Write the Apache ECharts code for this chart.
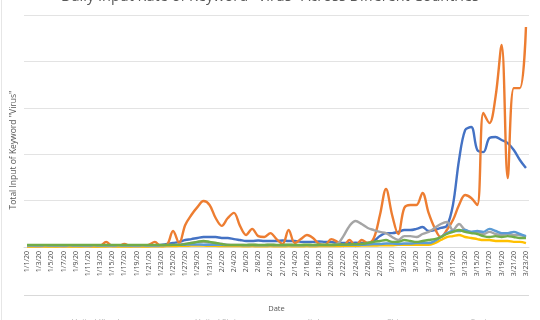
<!DOCTYPE html>
<html>
<head>
<meta charset="utf-8">
<script src="https://cdn.jsdelivr.net/npm/echarts@6/dist/echarts.min.js"></script>
<style>
  html, body { margin: 0; padding: 0; background: #fff; }
  #main { width: 540px; height: 320px; }
</style>
</head>
<body>
<div id="main"></div>
<script>
// dates 1/1/20 .. 3/23/20, one per day
var janDays = ['1/1/20','1/2/20','1/3/20','1/4/20','1/5/20','1/6/20','1/7/20','1/8/20','1/9/20','1/10/20',
  '1/11/20','1/12/20','1/13/20','1/14/20','1/15/20','1/16/20','1/17/20','1/18/20','1/19/20','1/20/20',
  '1/21/20','1/22/20','1/23/20','1/24/20','1/25/20','1/26/20','1/27/20','1/28/20','1/29/20','1/30/20','1/31/20'];
var febDays = ['2/1/20','2/2/20','2/3/20','2/4/20','2/5/20','2/6/20','2/7/20','2/8/20','2/9/20','2/10/20',
  '2/11/20','2/12/20','2/13/20','2/14/20','2/15/20','2/16/20','2/17/20','2/18/20','2/19/20','2/20/20',
  '2/21/20','2/22/20','2/23/20','2/24/20','2/25/20','2/26/20','2/27/20','2/28/20','2/29/20'];
var marDays = ['3/1/20','3/2/20','3/3/20','3/4/20','3/5/20','3/6/20','3/7/20','3/8/20','3/9/20','3/10/20',
  '3/11/20','3/12/20','3/13/20','3/14/20','3/15/20','3/16/20','3/17/20','3/18/20','3/19/20','3/20/20',
  '3/21/20','3/22/20','3/23/20'];
var dates = janDays.concat(febDays, marDays);

var seriesNames = ['United Kingdom', 'United States', 'Italy', 'China', 'Spain', 'Germany'];
var colors = ['#4472C4', '#ED7D31', '#A5A5A5', '#FFC000', '#5B9BD5', '#70AD47'];

var ukData = [
  0.6,0.6,0.7,0.6,0.6,0.7,0.6,0.6,0.7,0.6, 0.6,0.7,0.6,0.6,0.7,0.6,0.6,0.7,0.6,0.6,
  0.7,0.8,0.9,1.3,1.7,2.2,3.0,3.4,3.9,4.3, 4.3,4.3,3.9,3.9,3.4,3.0,2.6,2.6,2.8,2.6,
  2.6,2.6,2.8,2.6,2.6,2.2,2.2,2.2,2.4,2.2, 2.2,1.7,1.7,1.7,1.9,1.7,1.7,2.6,4.7,6.0,
  6.0,6.5,7.3,7.3,7.8,8.6,6.9,7.3,8.2,9.1, 18.1,37.5,50.4,51.7,41.8,40.9,47.0,47.4,46.1,44.8,
  41.8,37.5,34.0
];
var usData = [
  0.4,0.4,0.3,0.4,0.5,0.4,0.3,0.4,0.5,0.4, 0.4,0.3,0.4,2.2,0.4,0.4,1.3,0.4,0.4,0.4,
  0.9,2.2,0.4,0.9,6.9,1.7,9.5,13.8,17.2,19.8, 18.1,12.5,9.1,12.5,14.7,9.1,5.2,7.8,4.7,4.3,
  6.0,3.4,1.3,7.3,1.7,3.4,5.2,3.9,1.3,0.9, 3.4,2.2,0.4,3.0,0.4,3.0,1.7,3.9,13.8,25.0,
  13.8,5.6,16.8,18.1,18.1,23.3,14.7,8.2,4.3,7.3, 11.6,18.1,22.4,21.1,18.1,57.8,53.4,64.7,87.1,29.7,
  68.5,68.5,94.8
];
var italyData = [
  0.4,0.4,0.4,0.5,0.4,0.4,0.4,0.5,0.4,0.4, 0.4,0.5,0.4,0.4,0.4,0.5,0.4,0.4,0.4,0.5,
  0.4,0.4,0.5,0.6,0.8,1.0,1.3,1.7,2.2,2.2, 1.9,1.7,1.3,1.0,0.9,0.9,0.8,0.9,0.8,0.8,
  0.9,0.8,0.8,0.9,0.8,0.8,0.9,0.8,0.9,0.9, 0.9,1.3,4.7,9.1,11.2,9.9,8.2,7.3,6.5,6.0,
  4.3,3.0,4.7,4.7,4.3,5.6,6.5,8.2,9.9,10.8, 7.3,9.9,7.3,6.5,6.5,5.6,6.5,5.6,5.2,5.6,
  5.2,5.2,4.3
];
var chinaData = [
  0.2,0.2,0.3,0.2,0.2,0.2,0.3,0.2,0.2,0.2, 0.3,0.2,0.2,0.2,0.3,0.2,0.2,0.2,0.3,0.2,
  0.2,0.3,0.3,0.4,0.4,0.5,0.5,0.6,0.6,0.6, 0.5,0.5,0.4,0.4,0.4,0.4,0.3,0.4,0.3,0.3,
  0.4,0.3,0.3,0.4,0.3,0.3,0.4,0.3,0.4,0.4, 0.4,0.4,0.5,0.5,0.5,0.6,0.6,0.6,0.7,0.7,
  0.7,0.9,0.9,0.9,0.9,0.9,0.9,1.7,3.0,4.3, 4.7,5.2,4.3,3.9,3.4,3.0,3.0,2.6,2.6,2.6,
  2.2,2.2,1.7
];
var spainData = [
  0.6,0.6,0.6,0.7,0.6,0.6,0.6,0.7,0.6,0.6, 0.6,0.7,0.6,0.6,0.6,0.7,0.6,0.6,0.6,0.7,
  0.6,0.6,0.7,0.8,0.9,0.9,1.0,1.1,1.1,1.0, 1.0,0.9,0.9,0.8,0.8,0.8,0.7,0.8,0.7,0.7,
  0.8,0.7,0.7,0.8,0.7,0.7,0.8,0.7,0.8,0.8, 0.8,0.9,0.9,0.9,1.0,1.0,1.1,1.3,1.3,1.5,
  1.5,1.3,1.5,1.5,1.7,1.7,1.7,2.6,4.3,6.0, 6.9,6.9,7.3,6.5,6.9,6.5,7.8,6.9,6.0,6.0,
  6.5,5.6,4.7
];
var germanyData = [
  0.9,0.9,0.9,0.9,0.9,0.9,0.9,0.9,0.9,0.9, 0.9,0.9,0.9,0.9,0.9,0.9,0.9,0.9,0.9,0.9,
  0.9,0.9,0.9,0.9,0.9,0.9,1.3,1.7,2.2,2.6, 2.2,1.7,1.3,0.9,0.9,0.9,0.9,1.0,0.9,0.9,
  1.0,0.9,0.9,1.0,0.9,0.9,1.0,0.9,1.0,1.0, 1.0,1.0,1.1,1.1,1.2,1.3,1.7,2.2,2.6,3.0,
  2.2,2.2,3.0,2.6,2.2,2.6,3.0,3.4,4.3,5.6, 6.5,7.3,6.5,6.0,5.6,4.7,4.3,4.7,4.3,4.7,
  4.3,3.9,3.9
];
var allData = [ukData, usData, italyData, chinaData, spainData, germanyData];

var series = seriesNames.map(function (name, i) {
  return {
    name: name,
    type: 'line',
    data: allData[i],
    smooth: 0.35,
    symbol: 'none',
    lineStyle: { width: 2.4, color: colors[i] },
    itemStyle: { color: colors[i] }
  };
});

var myChart = echarts.init(document.getElementById('main'));

var option = {
  animation: false,
  backgroundColor: '#fff',
  title: {
    text: 'Daily Input Rate of Keyword "Virus" Across Different Countries',
    left: 'center',
    top: -16,
    textStyle: { fontFamily: 'Open Sans', fontSize: 14.5, fontWeight: 'normal', color: '#595959' }
  },
  legend: {
    data: seriesNames,
    top: 318,
    left: 'center',
    padding: 0,
    itemGap: 40,
    itemWidth: 18,
    itemHeight: 2,
    icon: 'rect',
    textStyle: { fontFamily: 'Open Sans', fontSize: 8, color: '#b0b0b0' }
  },
  grid: { left: 24, right: 11, top: 15, bottom: 73 },
  xAxis: {
    type: 'category',
    data: dates,
    name: 'Date',
    nameLocation: 'middle',
    nameGap: 58,
    nameTextStyle: { fontFamily: 'Open Sans', fontSize: 7.5, color: '#595959' },
    axisLine: { lineStyle: { color: '#d9d9d9' } },
    axisTick: { show: false },
    axisLabel: {
      interval: 1,
      rotate: 90,
      margin: 4,
      fontFamily: 'Open Sans',
      fontSize: 7,
      color: '#4d4d4d'
    }
  },
  yAxis: {
    type: 'value',
    min: 0,
    max: 100,
    interval: 20,
    name: 'Total Input of Keyword "Virus"',
    nameLocation: 'middle',
    nameGap: 6,
    nameTextStyle: { fontFamily: 'Open Sans', fontSize: 8.5, color: '#595959', padding: [0, 38, 0, 0] },
    axisLabel: { show: false },
    axisLine: { show: false },
    axisTick: { show: false },
    splitLine: { lineStyle: { color: '#e3e3e3' } }
  },
  graphic: [
    { type: 'line', shape: { x1: 24, y1: 295.5, x2: 529, y2: 295.5 }, style: { stroke: '#d9d9d9', lineWidth: 1 } },
    { type: 'line', shape: { x1: 1.5, y1: 0, x2: 1.5, y2: 320 }, style: { stroke: '#e6e6e6', lineWidth: 1 } }
  ],
  series: series
};

myChart.setOption(option);
</script>
</body>
</html>
